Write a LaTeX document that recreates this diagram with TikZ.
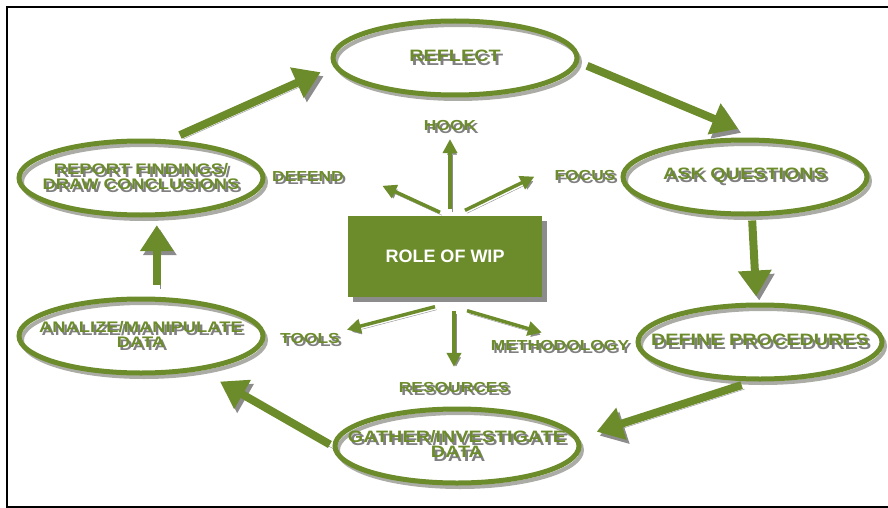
\documentclass[tikz,border=0pt]{standalone}
\usepackage{fontspec}
\setmainfont{Liberation Sans}
\newfontfamily\widefont{Liberation Sans}[FakeStretch=1.2]
\usetikzlibrary{shapes.geometric, arrows.meta}
\usetikzlibrary{positioning}

\definecolor{wipgreen}{RGB}{108,140,44}
\definecolor{shadowgray}{RGB}{140,140,140}
\definecolor{ringgray}{RGB}{172,172,166}
\definecolor{textshade}{RGB}{128,128,128}

\newcommand{\shadowed}[1]{\makebox[0pt][l]{\raisebox{-3.5pt}{\hspace*{2.5pt}\textcolor{textshade}{#1}}}\textcolor{wipgreen}{#1}}

\begin{document}
\begin{tikzpicture}
[
x=1pt, y=-1pt,
stage/.style     ={ellipse, draw=wipgreen, line width=5pt, minimum width=244pt, minimum height=74pt, inner sep=0pt,
                   preaction={draw=ringgray, line width=4pt, transform canvas={shift={(3pt,-4pt)}}}},
stagetext/.style ={align=center, inner sep=0pt, font=\widefont\bfseries\fontsize{16.5}{15.5}\selectfont},
smalltext/.style ={stagetext, font=\widefont\bfseries\fontsize{15.3}{15}\selectfont},
role/.style      ={rectangle, fill=wipgreen, text=white, minimum width=194pt, minimum height=81pt,
                   font=\bfseries\fontsize{18}{18}\selectfont,
                   preaction={fill=shadowgray, transform canvas={shift={(5pt,-5pt)}}}},
cue/.style       ={inner sep=2pt, font=\widefont\bfseries\fontsize{14.5}{14.5}\selectfont},
flow/.style      ={draw=wipgreen, line width=8pt, -{Triangle[length=26pt, width=32pt]},
                   preaction={draw=shadowgray, transform canvas={shift={(3pt,-4pt)}}}},
link/.style      ={draw=wipgreen, line width=3.5pt, -{Triangle[length=14pt, width=14pt]},
                   preaction={draw=shadowgray, transform canvas={shift={(2pt,-3pt)}}}},
]
\useasboundingbox (0,0) rectangle (888,508);
\draw[line width=2.5pt] (888,7) -- (7,7) -- (7,507) -- (888,507);

\node[stage, label={[stagetext]center:\shadowed{REFLECT}}] (reflect) at (455,58) {};
\node[stage, label={[stagetext]center:\shadowed{ASK QUESTIONS}}] (ask) at (745,177) {};
\node[stage, label={[stagetext]center:\shadowed{DEFINE PROCEDURES}}] (define) at (760,342) {};
\node[stage, label={[stagetext]center:{\shadowed{GATHER/INVESTIGATE}\\\shadowed{DATA}}}] (gather) at (457,446) {};
\node[stage, label={[smalltext]center:{\shadowed{ANALIZE/MANIPULATE}\\\shadowed{DATA}}}] (analize) at (141,336) {};
\node[stage, label={[smalltext]center:{\shadowed{REPORT FINDINGS/}\\\shadowed{DRAW CONCLUSIONS}}}] (report) at (141,178) {};

\node[role] (wip) at (445,256) {ROLE OF WIP};

\node[cue] (hook) at (450,127) {\shadowed{HOOK}};
\node[cue] (focus) at (585,177) {\shadowed{FOCUS}};
\node[cue] (defend) at (308,178) {\shadowed{DEFEND}};
\node[cue] (tools) at (310,340) {\shadowed{TOOLS}};
\node[cue] (resources) at (454,389) {\shadowed{RESOURCES}};
\node[cue] (methodology) at (560,347) {\shadowed{METHODOLOGY}};

% the cycle
\path[flow, shorten <=11pt, shorten >=14pt] (report.53) -- (reflect.184);
\path[flow, shorten <=9pt, shorten >=23pt] (reflect.358) -- (ask.70);
\path[flow, shorten <=4pt, shorten >=6pt] (ask.280) -- (define.95);
\path[flow, shorten <=12pt, shorten >=19pt] (define.260) -- (gather.4);
\path[flow, shorten <=3pt, shorten >=22pt] (gather.west) -- (analize.330);
\path[flow, shorten <=12pt, shorten >=8pt] (analize.68) -- (report.292);

% role of wip
\path[link, shorten <=6pt, shorten >=3pt] (wip.north -| hook.south) -- (hook.south);
\path[link, shorten >=20pt] ([xshift=20pt, yshift=5pt]wip.north) -- (focus.north west);
\path[link, shorten >=40pt] ([xshift=-5pt, yshift=3pt]wip.north) -- (defend.north east);
\path[link, shorten >=5pt] ([xshift=-10pt, yshift=-10pt]wip.south) -- (tools.north east);
\path[link, shorten <=14pt, shorten >=13pt] (wip.south -| resources.north) -- (resources.north);
\path[link, shorten >=19pt] ([xshift=22pt, yshift=-14pt]wip.south) -- (methodology.north);
\end{tikzpicture}
\end{document}
